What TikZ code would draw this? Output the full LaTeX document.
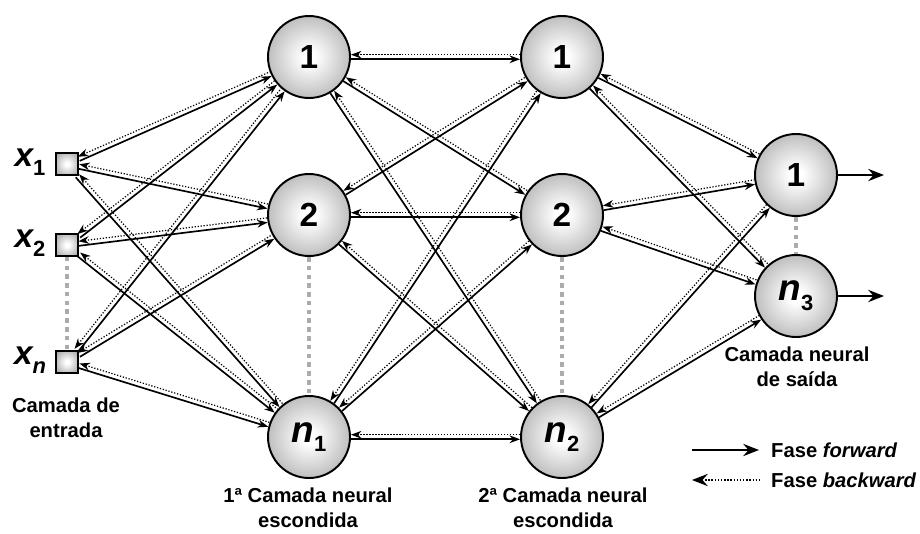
\documentclass[tikz,border=0pt]{standalone}
\usepackage{fontspec}
\setmainfont{Liberation Sans}
\usetikzlibrary{arrows.meta,calc}

\pgfdeclareradialshading{neuronball}{\pgfpoint{0bp}{0bp}}{color(0bp)=(white); color(4bp)=(white); color(50bp)=(black!55); color(72bp)=(black!55)}

\tikzset{
  neuron/.style={circle, draw, line width=1.1pt, minimum size=1.64cm, inner sep=0pt,
    shading=neuronball, font=\fontsize{19}{21}\selectfont\bfseries},
  entrada/.style={rectangle, draw, line width=0.9pt, minimum size=0.44cm, inner sep=0pt, shading=neuronball},
  fwd/.style={line width=0.95pt, -{Stealth[length=6pt,width=4.4pt,inset=2pt]}},
  bwd/.style={densely dotted, line width=0.7pt, {Stealth[length=6pt,width=4.4pt,inset=2pt]}-},
  omitido/.style={gray!65, line width=2.6pt, dash pattern=on 2.6pt off 2.4pt},
  rotulo/.style={font=\fontsize{11.5}{14.5}\selectfont\bfseries, align=center},
}

\newcommand{\indice}[1]{\raisebox{-0.5ex}{\fontsize{12.5}{12.5}\selectfont\upshape #1}}
\newcommand{\ligacao}[2]{%
  \path (#1) -- (#2) coordinate[pos=0] (ini) coordinate[pos=1] (fim);
  \draw[fwd] ($(ini)!1.3pt!-90:(fim)$) -- ($(fim)!1.3pt!90:(ini)$);
  \draw[bwd] ($(ini)!1.3pt!90:(fim)$) -- ($(fim)!1.3pt!-90:(ini)$);
}

\begin{document}
\begin{tikzpicture}[x=0.02cm, y=-0.02cm]
  \useasboundingbox (0,0) rectangle (920,534);

  % camada de entrada
  \node[entrada] (e1) at (67,164) {};
  \node[entrada] (e2) at (67,245) {};
  \node[entrada] (en) at (67,362) {};
  \node[font=\fontsize{19}{21}\selectfont\bfseries\itshape] (le1) at (30,162) {x\indice{1}};
  \node[font=\fontsize{19}{21}\selectfont\bfseries\itshape] (le2) at (30,243) {x\indice{2}};
  \node[font=\fontsize{19}{21}\selectfont\bfseries\itshape] (len) at (30,360) {x\indice{\itshape n}};

  % camadas escondidas
  \node[neuron] (a1) at (309,57) {1};
  \node[neuron] (a2) at (309,215) {2};
  \node[neuron] (an) at (309,437) {\fontsize{21}{22}\selectfont\itshape n\indice{1}};
  \node[neuron] (b1) at (562,57) {1};
  \node[neuron] (b2) at (562,215) {2};
  \node[neuron] (bn) at (562,437) {\fontsize{21}{22}\selectfont\itshape n\indice{2}};

  % camada de saida
  \node[neuron] (s1) at (796,175) {1};
  \node[neuron] (sn) at (796,296) {\fontsize{21}{22}\selectfont\itshape n\indice{3}};

  % neuronios omitidos
  \draw[omitido] (e2) -- (en);
  \draw[omitido] (a2) -- (an);
  \draw[omitido] (b2) -- (bn);
  \draw[omitido] (s1) -- (sn);

  % ligacoes
  \foreach \i in {e1,e2,en}
    \foreach \j in {a1,a2,an} {\ligacao{\i}{\j}}
  \foreach \i in {a1,a2,an}
    \foreach \j in {b1,b2,bn} {\ligacao{\i}{\j}}
  \foreach \i in {b1,b2,bn}
    \foreach \j in {s1,sn} {\ligacao{\i}{\j}}

  % saidas
  \coordinate (y1) at (884,175);
  \coordinate (yn) at (884,296);
  \draw[line width=1pt, -{Stealth[length=9pt,width=7pt,inset=3pt]}] (s1) -- (y1);
  \draw[line width=1pt, -{Stealth[length=9pt,width=7pt,inset=3pt]}] (sn) -- (yn);

  % rotulos
  \node[rotulo] (t0) at (66,418) {Camada de\\entrada};
  \node[rotulo] (t1) at (308,508) {1ª Camada neural\\escondida};
  \node[rotulo] (t2) at (563,508) {2ª Camada neural\\escondida};
  \node[rotulo] (t3) at (797,367) {Camada neural\\de saída};

  % legenda
  \coordinate (lf1) at (692,450);
  \coordinate (lf2) at (759,450);
  \coordinate (lb1) at (692,480);
  \coordinate (lb2) at (759,480);
  \draw[line width=1pt, -{Stealth[length=9pt,width=7pt,inset=3pt]}] (lf1) -- (lf2);
  \draw[densely dotted, line width=0.8pt, {Stealth[length=9pt,width=7pt,inset=3pt]}-] (lb1) -- (lb2);
  \node[rotulo, anchor=west] (lf) at (765,450) {Fase \textit{forward}};
  \node[rotulo, anchor=west] (lb) at (765,480) {Fase \textit{backward}};
\end{tikzpicture}
\end{document}
